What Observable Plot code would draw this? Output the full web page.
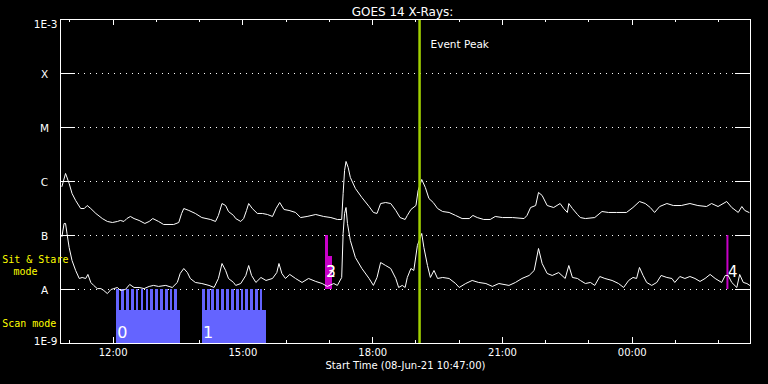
<!DOCTYPE html>
<html><head><meta charset="utf-8">
<script src="https://cdn.jsdelivr.net/npm/d3@7"></script>
<script src="https://cdn.jsdelivr.net/npm/@observablehq/plot@0.6"></script>
<style>
html,body{margin:0;padding:0;background:#000;}
#chart svg{display:block;}
</style></head><body><div id="chart"></div>
<script>
// ---- data ----
const startTime = "2021-06-08T10:47:00Z";
const spanMinutes = 957;
// [minutes since start, flux W/m^2]
const longChannel = [[2,8.1e-7],[7,1.41e-6],[12,9.2e-7],[16,6.0e-7],[21,4.45e-7],[28,3.16e-7],[33,3.16e-7],[37,3.59e-7],[42,3.16e-7],[49,2.56e-7],[58,2.06e-7],[65,1.82e-7],[72,1.74e-7],[79,1.82e-7],[83,1.9e-7],[88,1.82e-7],[92,2.06e-7],[97,2.25e-7],[102,2.06e-7],[109,1.9e-7],[117,1.67e-7],[123,1.82e-7],[128,2.06e-7],[136,1.82e-7],[143,1.6e-7],[157,1.6e-7],[164,1.74e-7],[168,2.56e-7],[171,3.16e-7],[178,2.91e-7],[187,2.56e-7],[196,2.15e-7],[208,1.98e-7],[215,1.82e-7],[219,2.35e-7],[224,3.91e-7],[229,3.59e-7],[233,2.78e-7],[240,2.35e-7],[243,2.06e-7],[250,1.82e-7],[254,2.06e-7],[258,2.91e-7],[261,3.91e-7],[266,3.16e-7],[273,2.56e-7],[280,2.56e-7],[287,2.45e-7],[294,2.25e-7],[299,3.16e-7],[304,4.08e-7],[310,3.03e-7],[317,2.91e-7],[326,2.67e-7],[333,2.15e-7],[342,2.25e-7],[354,2.45e-7],[365,2.25e-7],[375,2.15e-7],[384,1.98e-7],[390,1.98e-7],[392,6.0e-7],[394,1.6e-6],[396,2.35e-6],[399,1.82e-6],[402,1.19e-6],[409,7.43e-7],[418,5.05e-7],[428,3.44e-7],[434,2.67e-7],[439,2.56e-7],[444,3.91e-7],[451,4.08e-7],[458,3.91e-7],[465,2.91e-7],[471,2.15e-7],[478,1.98e-7],[481,2.35e-7],[486,3.03e-7],[493,3.59e-7],[496,6.81e-7],[501,1.09e-6],[506,7.76e-7],[511,4.84e-7],[517,4.08e-7],[523,3.16e-7],[530,2.78e-7],[539,2.67e-7],[548,2.35e-7],[557,2.06e-7],[567,2.06e-7],[572,2.35e-7],[578,2.15e-7],[587,1.98e-7],[596,1.98e-7],[603,2.25e-7],[613,2.15e-7],[627,2.15e-7],[643,2.06e-7],[647,2.35e-7],[652,3.3e-7],[659,3.59e-7],[663,6.27e-7],[668,5.51e-7],[675,3.59e-7],[684,3.3e-7],[693,3.91e-7],[698,3.16e-7],[703,2.67e-7],[705,3.91e-7],[710,3.16e-7],[717,2.45e-7],[721,2.15e-7],[728,2.06e-7],[741,2.15e-7],[751,2.78e-7],[760,2.67e-7],[771,2.67e-7],[785,2.67e-7],[794,3.3e-7],[803,4.26e-7],[811,3.91e-7],[818,3.3e-7],[824,2.67e-7],[831,3.44e-7],[841,3.91e-7],[850,3.59e-7],[861,3.59e-7],[873,3.91e-7],[884,3.59e-7],[896,3.44e-7],[903,3.91e-7],[912,3.44e-7],[924,4.26e-7],[931,3.3e-7],[940,2.67e-7],[945,3.44e-7],[949,2.91e-7],[955,2.67e-7]];
const shortChannel = [[2,9.6e-8],[5,1.67e-7],[7,1.67e-7],[9,1.09e-7],[12,6.0e-8],[16,3.44e-8],[21,2.25e-8],[26,1.6e-8],[30,1.67e-8],[35,1.6e-8],[38,1.9e-8],[42,1.35e-8],[46,1.19e-8],[51,1.04e-8],[56,1.04e-8],[60,9.6e-9],[65,8.4e-9],[70,1.0e-8],[74,1.04e-8],[79,1.09e-8],[83,9.6e-9],[90,1.0e-8],[96,1.24e-8],[102,1.09e-8],[109,1.09e-8],[116,1.04e-8],[123,1.14e-8],[129,1.19e-8],[136,1.14e-8],[146,1.19e-8],[155,1.09e-8],[162,1.35e-8],[166,1.98e-8],[171,2.45e-8],[176,2.06e-8],[180,1.6e-8],[187,1.35e-8],[196,1.29e-8],[206,1.19e-8],[213,1.09e-8],[219,1.6e-8],[224,3.03e-8],[229,2.25e-8],[233,1.6e-8],[240,1.35e-8],[243,1.19e-8],[250,1.29e-8],[257,1.82e-8],[261,2.78e-8],[265,1.82e-8],[271,1.35e-8],[278,1.67e-8],[285,1.47e-8],[294,1.6e-8],[300,2.06e-8],[303,3.03e-8],[307,1.98e-8],[312,1.6e-8],[318,1.9e-8],[326,1.6e-8],[335,1.35e-8],[344,1.6e-8],[354,1.41e-8],[363,1.29e-8],[370,1.14e-8],[379,1.29e-8],[384,1.19e-8],[390,1.67e-8],[392,1.09e-7],[394,2.56e-7],[396,3.3e-7],[398,1.67e-7],[402,8.1e-8],[409,3.91e-8],[418,2.45e-8],[428,1.6e-8],[434,1.19e-8],[439,1.67e-8],[444,3.16e-8],[451,2.78e-8],[458,2.45e-8],[465,1.6e-8],[469,1.09e-8],[474,1.19e-8],[478,1.09e-8],[481,1.67e-8],[486,2.45e-8],[490,2.25e-8],[495,6.54e-8],[501,1.09e-7],[504,6.0e-8],[509,2.78e-8],[513,1.67e-8],[518,2.25e-8],[523,1.6e-8],[530,1.67e-8],[539,1.6e-8],[548,1.29e-8],[553,1.09e-8],[562,1.29e-8],[571,1.47e-8],[580,1.35e-8],[590,1.29e-8],[599,1.14e-8],[608,1.29e-8],[622,1.19e-8],[631,1.35e-8],[640,1.6e-8],[650,1.82e-8],[657,2.25e-8],[663,5.75e-8],[668,3.03e-8],[675,1.98e-8],[682,1.82e-8],[691,2.06e-8],[700,1.6e-8],[705,2.78e-8],[710,1.67e-8],[717,1.6e-8],[721,1.47e-8],[728,1.29e-8],[735,1.35e-8],[741,1.19e-8],[748,1.74e-8],[755,1.6e-8],[765,1.47e-8],[774,1.29e-8],[781,1.09e-8],[788,1.47e-8],[794,1.67e-8],[799,1.6e-8],[803,2.56e-8],[808,1.82e-8],[813,1.35e-8],[820,1.19e-8],[827,1.35e-8],[833,1.82e-8],[841,1.67e-8],[848,1.6e-8],[852,1.35e-8],[859,1.74e-8],[866,1.6e-8],[873,1.74e-8],[880,1.6e-8],[887,1.41e-8],[894,1.6e-8],[901,1.9e-8],[908,1.6e-8],[917,1.35e-8],[922,1.82e-8],[926,1.82e-8],[931,1.35e-8],[938,1.09e-8],[942,1.9e-8],[947,1.35e-8],[952,1.29e-8],[956,1.19e-8]];

const levelValues = [1e-8, 1e-7, 1e-6, 1e-5, 1e-4];
const levelLabels = ["A", "B", "C", "M", "X"];
const topValue = 1e-3, topLabel = "1E-3";
const bottomValue = 1e-9, bottomLabel = "1E-9";

const majorTickTimes = ["2021-06-08T12:00Z","2021-06-08T15:00Z","2021-06-08T18:00Z","2021-06-08T21:00Z","2021-06-09T00:00Z"];
const minorTickTimes = ["2021-06-08T11:00Z","2021-06-08T13:00Z","2021-06-08T14:00Z","2021-06-08T16:00Z","2021-06-08T17:00Z","2021-06-08T19:00Z","2021-06-08T20:00Z","2021-06-08T22:00Z","2021-06-08T23:00Z","2021-06-09T01:00Z","2021-06-09T02:00Z"];

// scan mode blocks (minutes since start)
const scanBlocks = [{label: "0", start: 78, end: 167}, {label: "1", start: 197, end: 286}];
const scanPlateau = 4.1e-9;
const scanSpikeStarts = [78,85,92,98.5,105,112,119,125.5,132,139,145.5,152,158.5,
                         197,204,210,217,223.5,230.5,237,244,250.5,257,263.5,270.5,277];
const scanSpikeWidth = 3.7;
const scanSpikeTop = 1e-8;

// sit & stare events
const sitStareBars = [{start: 368, end: 372, top: 1e-7}, {start: 372, end: 377, top: 4.1e-8}];
const sitStareLines = [{time: 925, top: 1e-7}];
const sitStareBase = 1e-8;
const eventLabels = [{label: "2", time: 368}, {label: "3", time: 368}, {label: "4", time: 925}];

const eventPeakMinute = 498;

// ---- build ----
const t0 = new Date(startTime);
const toDate = m => new Date(+t0 + m * 60000);
const fmt = d3.utcFormat("%H:%M");
const major = majorTickTimes.map(s => new Date(s));
const minor = minorTickTimes.map(s => new Date(s));
const spikes = scanSpikeStarts.map(s => ({x1: toDate(s), x2: toDate(s + scanSpikeWidth)}));

const white = "#ffffff";
const blue = "#6464ff";
const magenta = "#c800c8";
const green = "#a0d000";
const yellow = "#ffff00";
const crisp = "crispEdges";

const chart = Plot.plot({
  width: 768, height: 384,
  marginLeft: 60, marginRight: 18, marginTop: 19, marginBottom: 41,
  style: {background: "#000", color: white, fontFamily: "DejaVu Sans", fontSize: "10px", overflow: "visible"},
  x: {type: "utc", domain: [toDate(0), toDate(spanMinutes)], axis: null},
  y: {type: "log", domain: [bottomValue, topValue], axis: null},
  marks: [
    Plot.ruleY(levelValues, {y: d => d, stroke: white, strokeDasharray: "1,5", shapeRendering: crisp}),
    Plot.tickY(levelValues, {y: d => d, stroke: white, insetRight: 675, shapeRendering: crisp}),
    Plot.tickY(levelValues, {y: d => d, stroke: white, insetLeft: 675, shapeRendering: crisp}),
    Plot.tickX(major, {x: d => d, stroke: white, insetTop: 318, shapeRendering: crisp}),
    Plot.tickX(major, {x: d => d, stroke: white, insetBottom: 318, shapeRendering: crisp}),
    Plot.tickX(minor, {x: d => d, stroke: white, insetTop: 321, shapeRendering: crisp}),
    Plot.tickX(minor, {x: d => d, stroke: white, insetBottom: 321, shapeRendering: crisp}),
    Plot.rectY(scanBlocks, {x1: d => toDate(d.start), x2: d => toDate(d.end), y1: bottomValue, y2: scanPlateau, fill: blue, shapeRendering: crisp}),
    Plot.rectY(spikes, {x1: "x1", x2: "x2", y1: scanPlateau, y2: scanSpikeTop, fill: blue, shapeRendering: crisp}),
    Plot.rectY(sitStareBars, {x1: d => toDate(d.start), x2: d => toDate(d.end), y1: sitStareBase, y2: d => d.top, fill: magenta, shapeRendering: crisp}),
    Plot.ruleX(sitStareLines, {x: d => toDate(d.time), y1: sitStareBase, y2: d => d.top, stroke: magenta, strokeWidth: 2}),
    Plot.line(longChannel, {x: d => toDate(d[0]), y: d => d[1], stroke: white, strokeWidth: 1}),
    Plot.line(shortChannel, {x: d => toDate(d[0]), y: d => d[1], stroke: white, strokeWidth: 1}),
    Plot.ruleX([eventPeakMinute], {x: d => toDate(d), stroke: green, strokeWidth: 2.5}),
    Plot.text([eventPeakMinute], {x: d => toDate(d), text: () => "Event Peak", frameAnchor: "top", dy: 21.5, dx: 11, textAnchor: "start", fill: white, fontSize: 10.5}),
    Plot.text(scanBlocks, {x: d => toDate(d.start), y: bottomValue, text: "label", dy: -10.5, dx: 0.5, textAnchor: "start", fill: white, fontSize: 16}),
    Plot.text(eventLabels, {x: d => toDate(d.time), y: sitStareBase, text: "label", dy: -17.5, dx: 0.5, textAnchor: "start", fill: white, fontSize: 15}),
    Plot.frame({stroke: white, shapeRendering: crisp}),
    Plot.text(levelValues, {y: d => d, text: (d, i) => levelLabels[i], frameAnchor: "left", dx: -16, dy: 1.5, textAnchor: "middle", fill: white, fontSize: 10.5}),
    Plot.text([topValue], {y: d => d, text: () => topLabel, frameAnchor: "left", dx: -3, dy: 5, textAnchor: "end", fill: white, fontSize: 10.5}),
    Plot.text([bottomValue], {y: d => d, text: () => bottomLabel, frameAnchor: "left", dx: -3, dy: -2, textAnchor: "end", fill: white, fontSize: 10.5}),
    Plot.text([sitStareBase], {y: d => d, text: () => "Sit & Stare", frameAnchor: "left", dx: -58.3, dy: -30, textAnchor: "start", fill: yellow, fontFamily: "DejaVu Sans Mono", fontSize: 10}),
    Plot.text([sitStareBase], {y: d => d, text: () => "mode", frameAnchor: "left", dx: -47, dy: -18, textAnchor: "start", fill: yellow, fontFamily: "DejaVu Sans Mono", fontSize: 10}),
    Plot.text([bottomValue], {y: d => d, text: () => "Scan mode", frameAnchor: "left", dx: -58.3, dy: -19.5, textAnchor: "start", fill: yellow, fontFamily: "DejaVu Sans Mono", fontSize: 10}),
    Plot.text(major, {x: d => d, text: d => fmt(d), frameAnchor: "bottom", dy: 12.5, fill: white, fontSize: 10}),
    Plot.text(["Start Time (08-Jun-21 10:47:00)"], {frameAnchor: "bottom", dy: 25.5, fill: white, fontSize: 10}),
    Plot.text(["GOES 14 X-Rays:"], {frameAnchor: "top", dy: -12, dx: -3, fill: white, fontSize: 12})
  ]
});
document.getElementById("chart").appendChild(chart);
</script>
</body></html>
